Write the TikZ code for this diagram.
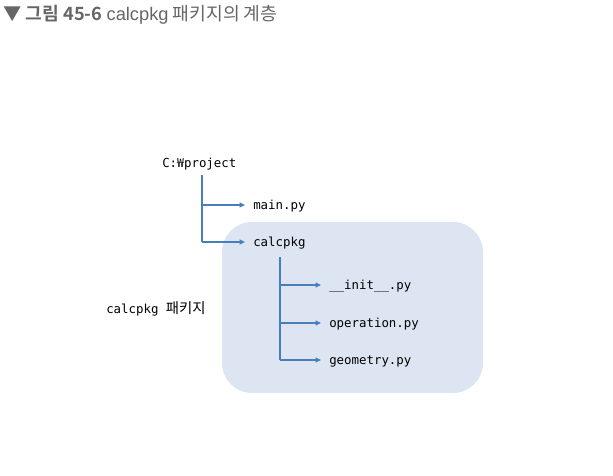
\documentclass[tikz,border=0pt]{standalone}
\usepackage{fontspec}
\setmainfont{Liberation Sans}
\newfontfamily\kr{Noto Sans CJK KR}[BoldFont={Noto Sans CJK KR Bold}]
\newfontfamily\mono{DejaVu Sans Mono}
\usetikzlibrary{arrows.meta}
\definecolor{linec}{HTML}{4A7EBB}
\definecolor{boxc}{HTML}{DCE5F1}
\definecolor{titlec}{HTML}{666666}
\begin{document}
\begin{tikzpicture}[x=0.75pt,y=-0.75pt,
  file/.style={anchor=west,inner sep=0pt,font=\mono\fontsize{9.3}{11}\selectfont},
  conn/.style={draw=linec,line width=1.4pt},
  arr/.style={conn,-{Triangle[length=4pt,width=3.5pt]}}]
\useasboundingbox (0,0) rectangle (613,475);
\fill[boxc,rounded corners=22.5pt] (222,222) rectangle (483,393);
\node[anchor=west,inner sep=0pt,text=titlec,font=\kr\fontsize{13.7}{15}\selectfont] (title) at (3,15)
  {\textbf{▼ 그림 45-6} {\fontspec{Liberation Sans}calcpkg} 패키지의 계층};
\node[file] (proj) at (162,164.5) {C:{\kr ₩}project};
\node[file] (main) at (253,206.5) {main.py};
\node[file] (calc) at (253,243.5) {calcpkg};
\node[file] (init) at (329,286.5) {\_\_init\_\_.py};
\node[file] (oper) at (329,324.5) {operation.py};
\node[file] (geom) at (329,361.5) {geometry.py};
\node[anchor=west,inner sep=0pt,font=\mono\fontsize{9.3}{11}\selectfont] (lbl) at (106,309) {calcpkg {\kr\fontsize{10.8}{12}\selectfont 패키지}};
\coordinate (p1) at (202,175);
\coordinate (p2) at (202,205);
\coordinate (p3) at (202,242);
\draw[conn] (p1) -- (p3);
\draw[arr] (p2) -- ([xshift=-6pt]main.west |- p2);
\draw[arr] (p3) -- ([xshift=-6pt]calc.west |- p3);
\coordinate (q1) at (280,257);
\coordinate (q2) at (280,285);
\coordinate (q3) at (280,323);
\coordinate (q4) at (280,360);
\draw[conn] (q1) -- (q4);
\draw[arr] (q2) -- ([xshift=-6pt]init.west |- q2);
\draw[arr] (q3) -- ([xshift=-6pt]oper.west |- q3);
\draw[arr] (q4) -- ([xshift=-6pt]geom.west |- q4);
\end{tikzpicture}
\end{document}
